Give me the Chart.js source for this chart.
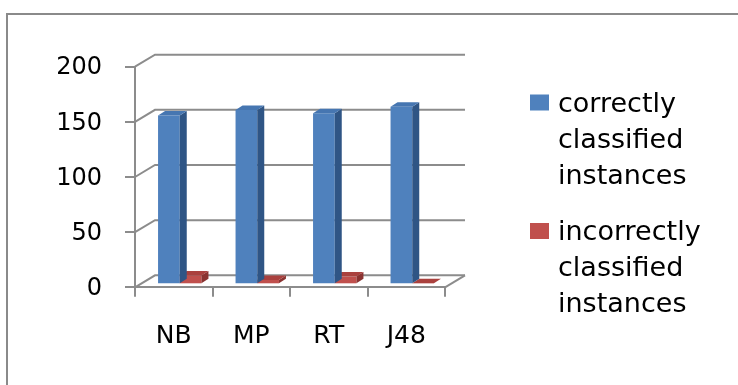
<!DOCTYPE html>
<html>
<head>
<meta charset="utf-8">
<script src="https://cdn.jsdelivr.net/npm/chart.js@4.4.0/dist/chart.umd.min.js"></script>
<style>
  html, body { margin: 0; padding: 0; background: #ffffff; }
  #wrap { width: 738px; height: 385px; position: relative; }
</style>
</head>
<body>
<div id="wrap"><canvas id="chart" width="738" height="385"></canvas></div>
<script>
// Classifier results: instances classified correctly / incorrectly
const categories = ['NB', 'MP', 'RT', 'J48'];
const correctlyClassified = [153, 158, 155, 161];
const incorrectlyClassified = [8, 4, 7, 1];
const seriesNames = ['correctly classified instances', 'incorrectly classified instances'];
const yTicks = [0, 50, 100, 150, 200];

// Look of the pseudo-3D frame
const LINE = '#8c8c8c';
const WALL_DX = 20, WALL_DY = 12;      // offset of the back wall from the front plane
const BAR_SHIFT_X = 6, BAR_SHIFT_Y = 3; // bars sit slightly behind the front plane
const BAR_DX = 7, BAR_DY = 4.5;         // depth of each column
const faces = [
  { front: '#4F81BD', top: '#4676B1', side: '#2F5585' },
  { front: '#C0504D', top: '#AA413E', side: '#8A3331' }
];
const FONT = 'DejaVu Sans';

const frame3d = {
  id: 'frame3d',
  beforeDraw(chart) {
    const ctx = chart.ctx;
    ctx.save();
    ctx.fillStyle = '#ffffff';
    ctx.fillRect(0, 0, chart.width, chart.height);
    // outer frame (top and left edges)
    ctx.strokeStyle = '#8a8a8a';
    ctx.lineWidth = 2;
    ctx.beginPath();
    ctx.moveTo(7, chart.height);
    ctx.lineTo(7, 14);
    ctx.lineTo(chart.width, 14);
    ctx.stroke();
    ctx.restore();
  },
  beforeDatasetsDraw(chart) {
    const ctx = chart.ctx;
    const area = chart.chartArea;
    const y = chart.scales.y;
    ctx.save();
    ctx.strokeStyle = LINE;
    ctx.lineWidth = 2;
    ctx.lineJoin = 'miter';
    // wall grid lines: diagonal from the front axis, then across the back wall
    y.ticks.forEach(t => {
      const py = y.getPixelForValue(t.value);
      ctx.beginPath();
      ctx.moveTo(area.left, py);
      ctx.lineTo(area.left + WALL_DX, py - WALL_DY);
      ctx.lineTo(area.right + WALL_DX, py - WALL_DY);
      ctx.stroke();
    });
    // right edge of the floor
    ctx.beginPath();
    ctx.moveTo(area.right, area.bottom);
    ctx.lineTo(area.right + WALL_DX, area.bottom - WALL_DY);
    ctx.stroke();
    ctx.restore();
  },
  beforeDatasetDraw(chart) {
    chart.ctx.save();
    chart.ctx.translate(BAR_SHIFT_X, -BAR_SHIFT_Y);
  },
  afterDatasetDraw(chart, args) {
    const ctx = chart.ctx;
    const f = faces[args.index];
    args.meta.data.forEach(bar => {
      const p = bar.getProps(['x', 'y', 'base', 'width'], true);
      const l = p.x - p.width / 2, r = p.x + p.width / 2;
      const top = Math.min(p.y, p.base), bot = Math.max(p.y, p.base);
      // side face
      ctx.fillStyle = f.side;
      ctx.beginPath();
      ctx.moveTo(r, top);
      ctx.lineTo(r + BAR_DX, top - BAR_DY);
      ctx.lineTo(r + BAR_DX, bot - BAR_DY);
      ctx.lineTo(r, bot);
      ctx.closePath();
      ctx.fill();
      // top face
      ctx.fillStyle = f.top;
      ctx.beginPath();
      ctx.moveTo(l, top);
      ctx.lineTo(l + BAR_DX, top - BAR_DY);
      ctx.lineTo(r + BAR_DX, top - BAR_DY);
      ctx.lineTo(r, top);
      ctx.closePath();
      ctx.fill();
    });
    ctx.restore();
  },
  afterDraw(chart) {
    // legend with each word on its own line
    const ctx = chart.ctx;
    ctx.save();
    ctx.font = '27px "' + FONT + '"';
    ctx.textBaseline = 'alphabetic';
    ctx.textAlign = 'left';
    chart.data.datasets.forEach((ds, i) => {
      const base = 111.5 + i * 128.5;
      ctx.fillStyle = ds.backgroundColor;
      ctx.fillRect(530, base - 17, 19, 16);
      ctx.fillStyle = '#000000';
      ds.label.split(' ').forEach((w, k) => ctx.fillText(w, 558, base + k * 36));
    });
    ctx.restore();
  }
};

new Chart(document.getElementById('chart'), {
  type: 'bar',
  data: {
    labels: categories,
    datasets: [
      { label: seriesNames[0], data: correctlyClassified, backgroundColor: faces[0].front, borderWidth: 0, clip: false },
      { label: seriesNames[1], data: incorrectlyClassified, backgroundColor: faces[1].front, borderWidth: 0, clip: false }
    ]
  },
  options: {
    responsive: false,
    devicePixelRatio: 1,
    animation: false,
    layout: { padding: { left: 0, right: 293, top: 66.7, bottom: 0 } },
    datasets: { bar: { categoryPercentage: 0.56, barPercentage: 1.0 } },
    plugins: { legend: { display: false }, tooltip: { enabled: false }, title: { display: false } },
    scales: {
      x: {
        type: 'category',
        offset: true,
        grid: { display: true, drawOnChartArea: false, offset: true, color: LINE, lineWidth: 2, tickLength: 9.5 },
        border: { display: true, color: LINE, width: 2 },
        ticks: { font: { family: FONT, size: 25 }, color: '#000000', padding: 25, maxRotation: 0, autoSkip: false },
        afterFit: s => { s.height = 385 - 287.3; }
      },
      y: {
        min: 0,
        max: 200,
        afterBuildTicks: s => { s.ticks = yTicks.map(v => ({ value: v })); },
        grid: { display: true, drawOnChartArea: false, color: LINE, lineWidth: 2, tickLength: 10 },
        border: { display: true, color: LINE, width: 2 },
        ticks: { font: { family: FONT, size: 24 }, color: '#000000', padding: 23, labelOffset: 1.5 },
        afterFit: s => { s.width = 135; }
      }
    }
  },
  plugins: [frame3d]
});
</script>
</body>
</html>
